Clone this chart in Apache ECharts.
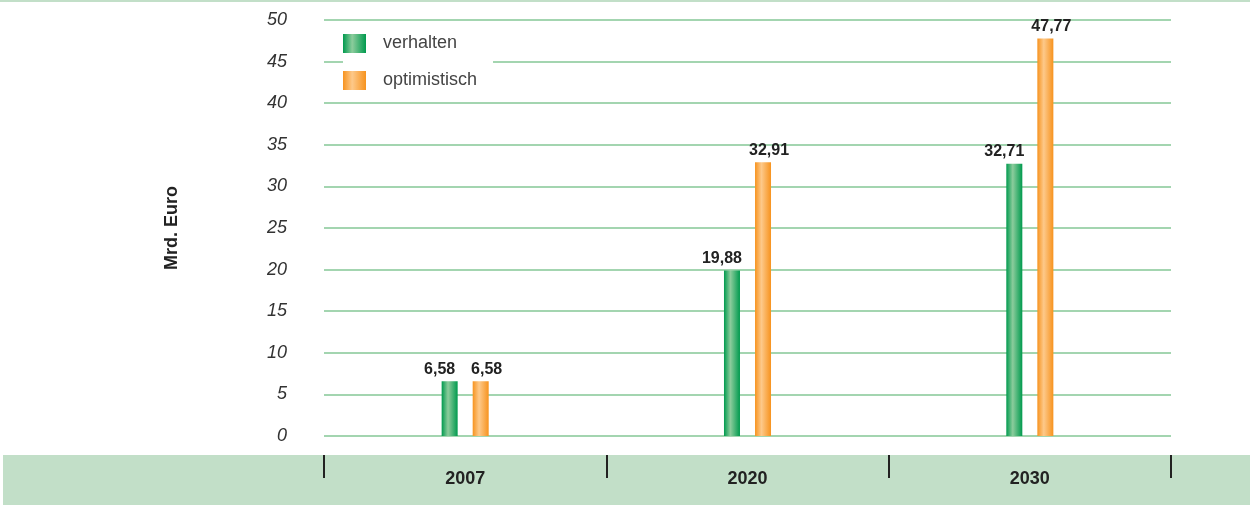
<!DOCTYPE html>
<html>
<head>
<meta charset="utf-8">
<script src="https://cdn.jsdelivr.net/npm/echarts@6/dist/echarts.min.js"></script>
<style>
  html, body { margin: 0; padding: 0; background: #fff; }
  #chart { width: 1250px; height: 506px; }
</style>
</head>
<body>
<div id="chart"></div>
<script>
// Jahre
var years = ['2007', '2020', '2030']
// Mrd. Euro
var verhalten = [6.58, 19.88, 32.71]
var optimistisch = [6.58, 32.91, 47.77]

var fontFam = '"Liberation Sans", Arial, sans-serif'

function barGrad(edge, light) {
  return new echarts.graphic.LinearGradient(0, 0, 1, 0, [
    { offset: 0, color: edge },
    { offset: 0.4, color: light },
    { offset: 1, color: edge },
  ])
}

function fmt(p) {
  return p.value.toFixed(2).replace('.', ',')
}

var option = {
  animation: false,
  textStyle: { fontFamily: fontFam },
  graphic: [
    { type: 'rect', z: -10, shape: { x: 0, y: 0, width: 1250, height: 2 }, style: { fill: '#c2dfc8' } },
    { type: 'rect', z: -10, shape: { x: 3, y: 455, width: 1247, height: 50 }, style: { fill: '#c2dfc8' } },
  ],
  grid: {
    top: 20,
    left: 324,
    right: 79,
    bottom: 70,
  },
  legend: {
    orient: 'vertical',
    left: 343,
    top: 22,
    padding: [12, 16, 8, 0],
    backgroundColor: '#fff',
    icon: 'rect',
    itemWidth: 23,
    itemHeight: 19,
    itemGap: 18,
    textStyle: { fontSize: 18, color: '#444', padding: [0, 0, 0, 12] },
    data: ['verhalten', 'optimistisch'],
  },
  xAxis: [
    {
      type: 'category',
      data: years,
      axisLine: { show: false },
      axisTick: { show: false },
      axisLabel: { fontSize: 18, fontWeight: 'bold', color: '#222', margin: 34 },
    },
    {
      type: 'category',
      data: years,
      position: 'bottom',
      offset: 19,
      axisLine: { show: false },
      axisTick: { show: true, length: 23, lineStyle: { color: '#222', width: 2 } },
      axisLabel: { show: false },
    },
  ],
  yAxis: {
    type: 'value',
    min: 0,
    max: 50,
    interval: 5,
    name: 'Mrd. Euro',
    nameLocation: 'middle',
    nameRotate: 90,
    nameGap: 143,
    nameTextStyle: { fontSize: 18, fontWeight: 'bold', color: '#222' },
    axisLine: { show: false },
    axisTick: { show: false },
    axisLabel: { fontSize: 18, fontStyle: 'italic', color: '#333', margin: 37 },
    splitLine: { lineStyle: { color: '#a3d5b0', width: 2 } },
  },
  series: [
    {
      name: 'verhalten',
      type: 'bar',
      data: verhalten,
      barWidth: 16,
      barGap: '94%',
      itemStyle: { color: barGrad('#009a4e', '#8ccc9c') },
      label: {
        show: true,
        position: 'top',
        distance: 4,
        offset: [-10, 0],
        fontSize: 16,
        fontWeight: 'bold',
        color: '#222',
        formatter: fmt,
      },
    },
    {
      name: 'optimistisch',
      type: 'bar',
      data: optimistisch,
      barWidth: 16,
      barGap: '94%',
      itemStyle: { color: barGrad('#f7931e', '#fdc98a') },
      label: {
        show: true,
        position: 'top',
        distance: 4,
        offset: [6, 0],
        fontSize: 16,
        fontWeight: 'bold',
        color: '#222',
        formatter: fmt,
      },
    },
  ],
}

var myChart = echarts.init(document.getElementById('chart'))
myChart.setOption(option)
</script>
</body>
</html>
